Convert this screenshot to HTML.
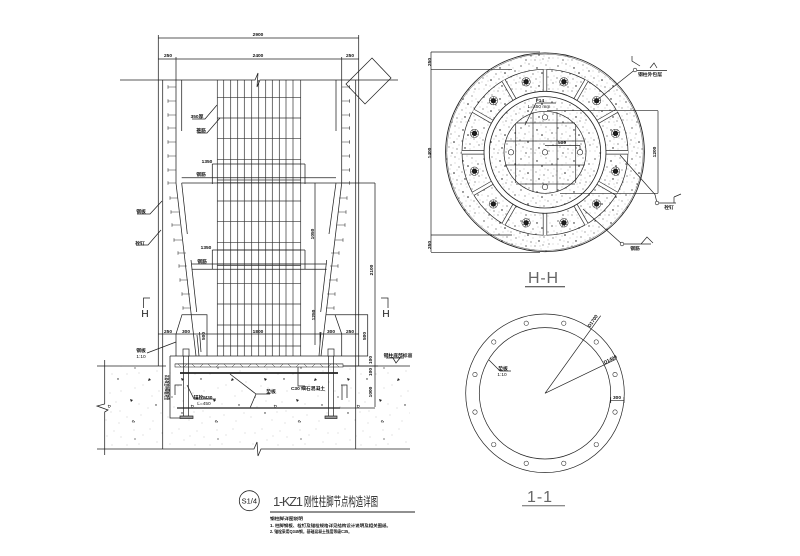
<!DOCTYPE html>
<html lang="zh"><head><meta charset="utf-8"><title>1-KZ1</title>
<style>html,body{margin:0;padding:0;background:#fff}svg{display:block}text{font-family:"Liberation Sans","Noto Sans CJK SC",sans-serif;fill:#111}</style>
</head><body>
<svg width="800" height="556" viewBox="0 0 800 556" xmlns="http://www.w3.org/2000/svg">
<defs>
<pattern id="sp" width="37" height="31" patternUnits="userSpaceOnUse">
<g fill="#111">
<circle cx="3" cy="4" r=".6"/><circle cx="11" cy="2" r=".45"/><circle cx="19" cy="6" r=".7"/><circle cx="28" cy="3" r=".45"/><circle cx="34" cy="9" r=".6"/>
<circle cx="7" cy="10" r=".45"/><circle cx="15" cy="12" r=".55"/><circle cx="24" cy="11" r=".75"/><circle cx="30" cy="15" r=".45"/><circle cx="2" cy="16" r=".55"/>
<circle cx="10" cy="18" r=".75"/><circle cx="18" cy="17" r=".45"/><circle cx="26" cy="20" r=".55"/><circle cx="35" cy="21" r=".55"/><circle cx="5" cy="23" r=".45"/>
<circle cx="13" cy="25" r=".55"/><circle cx="21" cy="24" r=".7"/><circle cx="31" cy="27" r=".5"/><circle cx="8" cy="29" r=".6"/><circle cx="17" cy="29" r=".45"/><circle cx="25" cy="28" r=".45"/>
</g>
<g fill="#777">
<circle cx="7" cy="1" r=".4"/><circle cx="15" cy="4" r=".4"/><circle cx="23" cy="1" r=".4"/><circle cx="32" cy="6" r=".4"/><circle cx="1" cy="9" r=".4"/><circle cx="11" cy="8" r=".4"/><circle cx="20" cy="10" r=".4"/><circle cx="28" cy="8" r=".4"/><circle cx="36" cy="14" r=".4"/><circle cx="6" cy="14" r=".4"/><circle cx="13" cy="15" r=".4"/><circle cx="22" cy="15" r=".4"/><circle cx="27" cy="14" r=".4"/><circle cx="33" cy="18" r=".4"/><circle cx="1" cy="20" r=".4"/><circle cx="7" cy="19" r=".4"/><circle cx="15" cy="21" r=".4"/><circle cx="22" cy="20" r=".4"/><circle cx="30" cy="23" r=".4"/><circle cx="9" cy="24" r=".4"/><circle cx="18" cy="26" r=".4"/><circle cx="26" cy="25" r=".4"/><circle cx="35" cy="27" r=".4"/><circle cx="3" cy="27" r=".4"/><circle cx="13" cy="29" r=".4"/><circle cx="22" cy="29" r=".4"/><circle cx="30" cy="30" r=".4"/>
</g></pattern>
<pattern id="co" width="83" height="71" patternUnits="userSpaceOnUse">
<g fill="#888"><circle cx="6" cy="7" r=".4"/><circle cx="18" cy="14" r=".4"/><circle cx="31" cy="5" r=".4"/><circle cx="44" cy="19" r=".4"/><circle cx="60" cy="9" r=".4"/><circle cx="74" cy="16" r=".4"/><circle cx="12" cy="31" r=".4"/><circle cx="27" cy="38" r=".4"/><circle cx="52" cy="33" r=".4"/><circle cx="69" cy="41" r=".4"/><circle cx="8" cy="52" r=".4"/><circle cx="37" cy="56" r=".4"/><circle cx="58" cy="60" r=".4"/><circle cx="78" cy="58" r=".4"/><circle cx="23" cy="65" r=".4"/>
<circle cx="13" cy="3" r=".4"/><circle cx="24" cy="10" r=".4"/><circle cx="38" cy="11" r=".4"/><circle cx="51" cy="4" r=".4"/><circle cx="67" cy="3" r=".4"/><circle cx="79" cy="7" r=".4"/><circle cx="4" cy="18" r=".4"/><circle cx="29" cy="19" r=".4"/><circle cx="56" cy="18" r=".4"/><circle cx="80" cy="27" r=".4"/><circle cx="3" cy="36" r=".4"/><circle cx="19" cy="33" r=".4"/><circle cx="38" cy="36" r=".4"/><circle cx="60" cy="30" r=".4"/><circle cx="76" cy="36" r=".4"/><circle cx="17" cy="46" r=".4"/><circle cx="33" cy="47" r=".4"/><circle cx="56" cy="49" r=".4"/><circle cx="65" cy="53" r=".4"/><circle cx="2" cy="62" r=".4"/><circle cx="28" cy="57" r=".4"/><circle cx="44" cy="62" r=".4"/><circle cx="70" cy="66" r=".4"/><circle cx="36" cy="68" r=".4"/></g>
<g fill="#222"><path d="M15 23l3 1-2 2z"/><path d="M47 44l3 1-2 2z"/><path d="M66 23l2 2-3 1z"/><circle cx="35" cy="24" r=".7"/><circle cx="73" cy="50" r=".7"/><circle cx="16" cy="58" r=".7"/><circle cx="6" cy="42" r=".6"/><circle cx="52" cy="13" r=".6"/><path d="M50 65l2 2-3 0z" fill="none" stroke="#222" stroke-width=".5"/><path d="M25 50l3 1-2 2z" fill="none" stroke="#222" stroke-width=".5"/></g>
</pattern>
<g id="stud"><path d="M0 0h-8M-8-1.7v3.4" fill="none" stroke="#333" stroke-width=".6"/></g>
<g id="bolt"><circle r="4.2" fill="#fff" stroke="#222" stroke-width=".5"/><circle r="2.6" fill="#111"/><path d="M-3.8 0H3.8M0-3.8V3.8M-2.7-2.7L2.7 2.7M-2.7 2.7L2.7-2.7" stroke="#222" stroke-width=".5"/></g>
<g id="rib"><rect x="-1.8" y="-83" width="3.6" height="22" fill="#fff"/><path d="M-1.8-83V-61M1.8-83V-61" stroke="#333" stroke-width=".7" fill="none"/></g>
<circle id="hole" r="2.2" fill="#fff" stroke="#333" stroke-width=".6"/>
</defs>

<!-- concrete -->
<rect x="105" y="366" width="305" height="83" fill="url(#co)"/>

<!-- grid -->
<g stroke="#333" stroke-width=".7" fill="none">
<path d="M217.3 80V356M223.7 80V356M230.7 80V356M237.7 80V356M244.3 80V356M251.7 80V356M258.7 80V356M265.7 80V356M272.3 80V356M279.3 80V356M286 80V356M293 80V356M300.7 80V356"/>
<path d="M217 97.7H301M217 118H301M217 138.7H301M217 159.3H301M217 180H301M217 182.7H301M217 201H301M217 221.7H301M217 242.3H301M217 250H301M217 264H301M217 265.5H301M217 283.7H301M217 304H301M217 325H301M217 346H301"/>
</g>

<!-- column and ground lines -->
<g stroke="#222" stroke-width=".75" fill="none">
<path d="M120 80H255L258 73 257 87 260 80H398"/>
<path d="M158.3 80V366M162.7 80V449M355.7 80V449M358.7 80V366"/>
<path d="M176 80V183L196 356M181.7 80V131M181.7 183L187.3 234M191 260L196.7 312"/>
<path d="M341.7 80V183L321 356M336 80V131M336 183L329 234M326.7 260L320.7 312"/>
<path d="M372 58L391 78 365 104 346 84Z"/>
<!-- top dims -->
<path d="M158.3 38H358.7M158.3 35V80M358.7 35V80M158.3 59H358.7M176 57V80M341.7 57V80"/>
<!-- inner dims -->
<path d="M181.7 177.7H336M181.7 183H375M212.3 164H305M212.3 164V184M305 164V184"/>
<path d="M191.7 264H326.7M191.7 269.3H326.7M212.3 250H305M212.3 250V269M305 250V269"/>
<path d="M315 183V345M375 183V407"/>
<path d="M158.3 334H358.7"/>
<!-- ribs -->
<path d="M176 334L182 314.7H207V356M176 334V356"/>
<path d="M341.7 334L335 314.7H367.7V356M326 314.7H335M341.7 334V356"/>
<path d="M199.5 332L201 352M197 335L199 356M321 332L319 356M320 332V345"/>
<!-- base -->
<path d="M170 356H368M170 356V418H193M175 364H343M340 408H375M343 366H378"/>
<!-- ground -->
<path d="M97 366H166M343 366H410M97 449H254L257 442 258 456 261 449H410M104.7 360V404L97 406 108 410 104.7 412V455"/>
<!-- section marks -->
<path d="M150 298H143.5V308M381 298H388V308"/>
<!-- leaders -->
<path d="M217 105L205 119H192M220 118L207 133H197M162 201L150 214H137M161 230L148 245H136M176 342L147 353M230 374L256 394H270M256 394L250 408M187 385L194 399H216M298 366V386H305"/>
<path d="M175 395V385H182M341 385H347V398M342 385V400"/>
<path d="M386 358H404M393 358L396 363 400 358"/>
</g>
<g fill="none" stroke="#222" stroke-width="1.7">
<path d="M180 373H338"/>
</g>
<g fill="none" stroke="#444" stroke-width="1.6">
<path d="M177 408H340"/>
</g>
<rect x="175" y="364" width="168" height="3" fill="#fff" stroke="#333" stroke-width=".6"/>
<path d="M178 364l3 3M184 367l3-3M192 364l3 3M200 367l3-3M208 364l3 3M216 367l3-3M224 364l3 3M232 367l3-3M240 364l3 3M248 367l3-3M256 364l3 3M264 367l3-3M272 364l3 3M280 367l3-3M288 364l3 3M296 367l3-3M304 364l3 3M312 367l3-3M320 364l3 3M328 367l3-3M336 364l3 3" stroke="#333" stroke-width=".5"/>

<!-- studs -->
<g>
<use href="#stud" x="176" y="87"/><use href="#stud" x="176" y="101"/><use href="#stud" x="176" y="115"/><use href="#stud" x="176" y="128"/><use href="#stud" x="176" y="142"/><use href="#stud" x="176" y="156"/><use href="#stud" x="176" y="170"/><use href="#stud" x="176" y="183"/>
<use href="#stud" x="178" y="198"/><use href="#stud" x="179" y="212"/><use href="#stud" x="180" y="225"/><use href="#stud" x="182" y="240"/><use href="#stud" x="186" y="253"/><use href="#stud" x="187" y="266"/><use href="#stud" x="188" y="280"/><use href="#stud" x="190" y="294"/><use href="#stud" x="191" y="308"/>
<g transform="translate(517,0) scale(-1,1)">
<use href="#stud" x="175.3" y="87"/><use href="#stud" x="175.3" y="101"/><use href="#stud" x="175.3" y="115"/><use href="#stud" x="175.3" y="128"/><use href="#stud" x="175.3" y="142"/><use href="#stud" x="175.3" y="156"/><use href="#stud" x="175.3" y="170"/><use href="#stud" x="175.3" y="183"/>
<use href="#stud" x="178" y="198"/><use href="#stud" x="179" y="212"/><use href="#stud" x="180" y="225"/><use href="#stud" x="182" y="240"/><use href="#stud" x="186" y="253"/><use href="#stud" x="187" y="266"/><use href="#stud" x="188" y="280"/><use href="#stud" x="190" y="294"/><use href="#stud" x="191" y="308"/>
</g></g>

<!-- anchor bolts -->
<g stroke="#222" stroke-width=".7" fill="#fff">
<path d="M183.5 351V417M188.5 351V417M328.5 351V417M333.5 351V417" fill="none"/>
<rect x="183" y="349" width="6" height="7"/><rect x="328" y="349" width="6" height="7"/>
<rect x="180" y="416" width="13" height="2.5" fill="#999"/><rect x="325" y="416" width="12" height="2.5" fill="#999"/>
</g>

<!-- left labels -->
<g font-size="4.8" text-anchor="middle" font-weight="bold">
<text x="258" y="36">2900</text><text x="168" y="57">250</text><text x="258" y="57">2400</text><text x="350" y="57">250</text>
<text x="197" y="118">350厚</text><text x="201" y="132">箍筋</text><text x="207" y="163">1350</text><text x="201" y="176">钢筋</text>
<text x="141" y="213">钢板</text><text x="140" y="245">栓钉</text><text x="206" y="249">1350</text><text x="202" y="263">钢筋</text>
<text x="168" y="333">250</text><text x="186" y="333">300</text><text x="258" y="333">1800</text><text x="331" y="333">300</text><text x="350" y="333">250</text>
<text x="141" y="352">钢板</text><text x="141" y="358" font-weight="normal">1:10</text>
<text x="271" y="393">垫板</text><text x="203" y="399">锚栓M30</text><text x="204" y="405" font-weight="normal">L=450</text>
<text x="308" y="390">C30 细石混凝土</text>
<text x="398" y="357">钢柱底部标高</text>
<text transform="translate(314,234) rotate(-90)">1050</text>
<text transform="translate(373,270) rotate(-90)">2100</text>
<text transform="translate(315,315) rotate(-90)">1250</text>
<text transform="translate(205,336) rotate(-90)">500</text>
<text transform="translate(366,336) rotate(-90)">500</text>
<text transform="translate(372,360) rotate(-90)">100</text>
<text transform="translate(372,372) rotate(-90)">100</text>
<text transform="translate(372,392) rotate(-90)">1000</text>
<text transform="translate(169,400) rotate(-90)" font-size="5" text-anchor="start" textLength="25" lengthAdjust="spacingAndGlyphs">基础顶面标高及做法</text>
</g>
<text x="145" y="317" font-size="10" text-anchor="middle">H</text>
<text x="386" y="317" font-size="10" text-anchor="middle">H</text>

<!-- H-H section -->
<g>
<circle cx="545" cy="152.3" r="99.4" fill="url(#sp)" stroke="#222" stroke-width=".9"/>
<circle cx="545" cy="152.3" r="98.2" fill="none" stroke="#555" stroke-width=".5"/>
<circle cx="545" cy="152.3" r="83" fill="none" stroke="#222" stroke-width=".7"/>
<g transform="translate(545,152.3)">
<use href="#rib"/><use href="#rib" transform="rotate(30)"/><use href="#rib" transform="rotate(60)"/><use href="#rib" transform="rotate(90)"/><use href="#rib" transform="rotate(120)"/><use href="#rib" transform="rotate(150)"/><use href="#rib" transform="rotate(180)"/><use href="#rib" transform="rotate(210)"/><use href="#rib" transform="rotate(240)"/><use href="#rib" transform="rotate(270)"/><use href="#rib" transform="rotate(300)"/><use href="#rib" transform="rotate(330)"/>
<use href="#bolt" transform="rotate(15) translate(0,-73)"/><use href="#bolt" transform="rotate(45) translate(0,-73)"/><use href="#bolt" transform="rotate(75) translate(0,-73)"/><use href="#bolt" transform="rotate(105) translate(0,-73)"/><use href="#bolt" transform="rotate(135) translate(0,-73)"/><use href="#bolt" transform="rotate(165) translate(0,-73)"/><use href="#bolt" transform="rotate(195) translate(0,-73)"/><use href="#bolt" transform="rotate(225) translate(0,-73)"/><use href="#bolt" transform="rotate(255) translate(0,-73)"/><use href="#bolt" transform="rotate(285) translate(0,-73)"/><use href="#bolt" transform="rotate(315) translate(0,-73)"/><use href="#bolt" transform="rotate(345) translate(0,-73)"/>
</g>
<circle cx="545" cy="152.3" r="61" fill="#fff" stroke="#222" stroke-width=".8"/>
<circle cx="545" cy="152.3" r="55.7" fill="url(#sp)" stroke="#222" stroke-width=".8"/>
<circle cx="545" cy="152.3" r="41" fill="none" stroke="#222" stroke-width=".7"/>
<path d="M515.7 124V183M533 112V192M557 112V192M575.7 124V183M516 123H575M505 141H585M505 165H585M516 184H575" stroke="#333" stroke-width=".7" fill="none"/>
<g fill="#fff" stroke="#222" stroke-width=".6"><circle cx="545" cy="117.3" r="2.7"/><circle cx="545" cy="187" r="2.7"/><circle cx="511" cy="152.3" r="2.7"/><circle cx="545" cy="152.3" r="2.7"/><circle cx="580" cy="152.3" r="2.7"/></g>
<g stroke="#222" stroke-width=".7" fill="none">
<path d="M431 52V252M431 52H540M431 69.3H512M431 235H512M431 252.3H540"/>
<path d="M658 110.7V193.3M547 110.7H658M560 193.3H658M545 145.5H580M580 145.5V150"/>
<path d="M536 103H556M536 103L525 125"/>
<path d="M597 100L634 70.5H667M632 56V61L640 66M650 68L654 63 657 68"/>
<path d="M620 155L655 194.5 657 203H676M674 197V203M674 197L681 194"/>
<path d="M583 209L622 244H651M641 244L647 237 653 243"/>
</g>
<circle cx="635" cy="70" r="1.8" fill="#fff" stroke="#222" stroke-width=".6"/>
<circle cx="657" cy="203" r="1.8" fill="#fff" stroke="#222" stroke-width=".6"/>
<circle cx="622" cy="244" r="1.8" fill="#fff" stroke="#222" stroke-width=".6"/>
<g font-size="4.8" text-anchor="middle" font-weight="bold">
<text x="540" y="102">F14</text><text x="539" y="108" font-weight="normal">L=450 mm</text>
<text x="562" y="144">500</text>
<text x="650" y="76">钢柱外包层</text><text x="669" y="209">栓钉</text><text x="635" y="250">钢筋</text>
<text transform="translate(431,62) rotate(-90)">250</text><text transform="translate(431,153) rotate(-90)">1400</text><text transform="translate(431,245) rotate(-90)">250</text>
<text transform="translate(656,152) rotate(-90)">1200</text>
</g>
<text x="528" y="283" font-size="16" textLength="30" lengthAdjust="spacing" style="fill:#666">H - H</text>
<path d="M525 286.7H565" stroke="#333" stroke-width="1"/>
</g>

<!-- 1-1 section -->
<g stroke="#222" fill="none" stroke-width=".7">
<circle cx="545" cy="393.3" r="79.3"/><circle cx="545" cy="393.3" r="65.7"/>
<path d="M545 393.3L600.7 315.7M545 393.3L615.7 359.3M610.7 400.7H624M610.7 397V403M624 397V403M489 360L500 371H511"/>
</g>
<g transform="translate(545,393.3)">
<use href="#hole" transform="rotate(15) translate(0,-72.5)"/><use href="#hole" transform="rotate(45) translate(0,-72.5)"/><use href="#hole" transform="rotate(75) translate(0,-72.5)"/><use href="#hole" transform="rotate(105) translate(0,-72.5)"/><use href="#hole" transform="rotate(135) translate(0,-72.5)"/><use href="#hole" transform="rotate(165) translate(0,-72.5)"/><use href="#hole" transform="rotate(195) translate(0,-72.5)"/><use href="#hole" transform="rotate(225) translate(0,-72.5)"/><use href="#hole" transform="rotate(255) translate(0,-72.5)"/><use href="#hole" transform="rotate(285) translate(0,-72.5)"/><use href="#hole" transform="rotate(315) translate(0,-72.5)"/><use href="#hole" transform="rotate(345) translate(0,-72.5)"/>
</g>
<g font-size="4.8" text-anchor="middle" font-weight="bold">
<text x="503" y="370">垫板</text><text x="502" y="376" font-weight="normal">1:10</text><text x="617" y="399">300</text>
<text transform="translate(594,322) rotate(-55)">D1700</text><text transform="translate(611,361) rotate(-27)">D1400</text>
</g>
<text x="527" y="502" font-size="16" textLength="25" lengthAdjust="spacing" style="fill:#666">1 - 1</text>
<path d="M522 505.7H565" stroke="#666" stroke-width="1"/>

<!-- title -->
<circle cx="249.3" cy="500.7" r="10" fill="none" stroke="#222" stroke-width=".8"/>
<text x="249.3" y="503.5" font-size="7.5" text-anchor="middle">S1/4</text>
<text x="273" y="506" font-size="13" textLength="30" lengthAdjust="spacing" style="fill:#444">1-KZ1</text>
<text x="304" y="506" font-size="12.5" textLength="74" lengthAdjust="spacingAndGlyphs" style="fill:#222">刚性柱脚节点构造详图</text>
<path d="M270 512H415" stroke="#222" stroke-width=".9"/>
<g font-size="4.2" font-weight="bold">
<text x="270" y="520" textLength="33" lengthAdjust="spacingAndGlyphs">钢柱脚详图说明</text>
<text x="270" y="527" textLength="121" lengthAdjust="spacingAndGlyphs">1. 柱脚钢板、栓钉及锚栓规格详见结构设计说明及相关图纸。</text>
<text x="270" y="533" textLength="82" lengthAdjust="spacingAndGlyphs">2. 锚栓采用Q345钢，基础混凝土强度等级C35。</text>
</g>
</svg>
</body></html>
